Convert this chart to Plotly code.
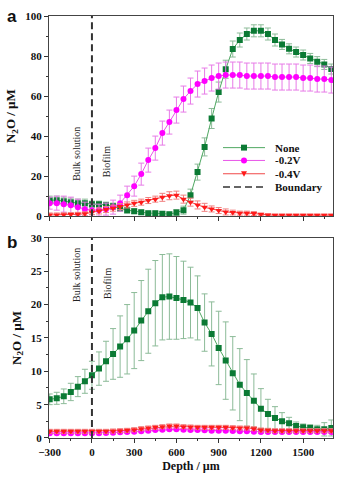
import plotly.graph_objects as go
from plotly.subplots import make_subplots

depth = list(range(-300, 1701, 50))

# Panel a
a_none = [8, 8, 7.5, 7, 6.5, 6.5, 6, 6, 5.5, 5, 4, 3, 2.5, 2, 1.5, 1.5, 1.2, 1,
          1.8, 3, 10.5, 22, 34.6, 48.8, 62, 73.4, 83.5, 88, 91, 92.6, 92.6, 91, 88, 85.8,
          83.6, 82, 80.5, 78.8, 77.2, 75.8, 73.5]
a_none_err = [2, 2, 2, 2, 2, 2, 1.5, 1.5, 1.5, 1.5, 1.5, 1.5, 1.2, 1, 1, 1, 1, 1, 1.5, 2,
              3, 4, 4.5, 5, 5, 4.5, 4, 3.5, 3, 3, 3, 3, 3, 2.5, 2.5, 2.5, 2.5, 2.5, 2.5, 2.5, 2.5]
a_02 = [6.5, 6.5, 6, 5.5, 4.5, 3.5, 3, 3, 3.5, 4.5, 6.5, 10.5, 15, 21, 28, 34, 41.5, 47, 53,
        58.5, 62.5, 66, 67.5, 69, 70, 70.5, 70.5, 70.5, 70, 70, 70, 70, 69.5, 69.5, 69.5,
        69.5, 69, 69, 68.5, 68.5, 68]
a_02_err = [3, 3.5, 4, 4, 4, 3.5, 3, 3, 3, 3.5, 4, 4.5, 5, 5.5, 6, 6, 6, 6, 6.5, 6.5, 6.5,
            6.5, 6.5, 6.5, 6.5, 6.5, 6.5, 6.5, 6.5, 6.5, 6.5, 6.5, 6.5, 6.5, 6.5, 6.5, 6.5,
            6.5, 6.5, 6.5, 6.5]
a_04 = [0.6, 0.6, 0.7, 0.8, 0.9, 1.2, 2, 2.6, 3.3, 4, 4.8, 5.6, 6.4, 7, 7.8, 8.5, 9.4, 10.2,
        10.5, 8.5, 7, 5.6, 4.4, 3.6, 2.8, 2.1, 1.8, 1.5, 1.5, 1.3, 0.9, 0.6, 0.5, 0.5, 0.5,
        0.5, 0.5, 0.5, 0.5, 0.5, 0.5]
a_04_err = [1, 1, 1, 1, 1, 1, 1.2, 1.5, 1.5, 1.5, 1.5, 1.5, 1.5, 1.5, 1.5, 1.5, 2, 2, 2, 2,
            2, 2, 2, 1.5, 1.5, 1.5, 1.2, 1, 1, 1, 0.5, 0.5, 0.5, 0.5, 0.5, 0.5, 0.5, 0.5,
            0.5, 0.5, 0.5]

# Panel b
b_none = [5.8, 5.95, 6.25, 6.9, 7.7, 8.5, 9.4, 10.4, 11.5, 12.6, 13.7, 14.8, 16.1, 17.6,
          19.0, 20.2, 21.1, 21.2, 21.0, 20.7, 20.3, 19.5, 17.3, 15.6, 13.5, 11.6, 9.7, 8.0,
          6.75, 5.6, 4.4, 3.6, 3.0, 2.5, 2.2, 1.8, 1.6, 1.5, 1.3, 1.3, 1.5]
b_none_err = [0.8, 0.9, 1.1, 1.3, 1.5, 1.8, 2.1, 2.5, 3, 3.8, 4.6, 5.2, 5.7, 6, 6.3, 6.4,
              6.4, 6.4, 6.2, 5.8, 5.3, 4.8, 4.3, 4.8, 5.5, 5.8, 5.5, 5.4, 5, 4, 3, 2.2,
              1.7, 1.3, 0.9, 0.6, 0.5, 0.5, 0.6, 1.0, 1.2]
b_02 = [0.7, 0.7, 0.7, 0.7, 0.7, 0.7, 0.7, 0.7, 0.75, 0.8, 0.85, 0.9, 0.95, 1.0, 1.1, 1.2,
        1.25, 1.3, 1.3, 1.25, 1.2, 1.2, 1.15, 1.1, 1.1, 1.1, 1.05, 1.0, 1.0, 0.95, 0.9,
        0.9, 0.9, 0.9, 0.9, 0.9, 0.9, 0.9, 0.9, 0.9, 0.9]
b_02_err = [0.2] * 41
b_04 = [1.0, 1.0, 1.0, 1.0, 1.0, 1.0, 1.0, 1.0, 1.0, 1.05, 1.1, 1.15, 1.25, 1.4, 1.5, 1.6,
        1.7, 1.8, 1.8, 1.7, 1.65, 1.6, 1.6, 1.6, 1.6, 1.6, 1.55, 1.5, 1.5, 1.4, 1.2, 1.15,
        1.1, 1.1, 1.1, 1.1, 1.1, 1.1, 1.1, 1.1, 1.1]
b_04_err = [0.3] * 41

boundary_x = [0, 0]
legend_names = ["None", "-0.2V", "-0.4V", "Boundary"]

SERIF = "Liberation Serif"
green_m, green_l, green_e = "#0b7a34", "#4fa862", "#8cbb98"
mag_m, mag_l, mag_e = "#ff00ff", "#e855e8", "#e77be7"
red_m, red_l, red_e = "#ff1a1a", "#f04848", "#f08080"
dash_c = "#333"

W, H = 350, 483
ML, MR, MT, MB = 49, 17, 10, 45
PW, PH = W - ML - MR, H - MT - MB

def px(x):
    return (x - ML) / PW

def py(y):
    return (H - MB - y) / PH

fig = make_subplots(rows=2, cols=1, vertical_spacing=0.0514)

def add_series(row, y, err, name, sym, mc, lc, ec):
    fig.add_trace(go.Scatter(
        x=depth, y=y, mode="lines+markers", name=name, showlegend=False,
        marker=dict(symbol=sym, size=6, color=mc),
        line=dict(color=lc, width=1),
        error_y=dict(type="data", array=err, color=ec, thickness=1, width=3),
    ), row=row, col=1)

add_series(1, a_none, a_none_err, "None", "square", green_m, green_l, green_e)
add_series(1, a_02, a_02_err, "-0.2V", "circle", mag_m, mag_l, mag_e)
add_series(1, a_04, a_04_err, "-0.4V", "triangle-down", red_m, red_l, red_e)
fig.add_trace(go.Scatter(x=boundary_x, y=[0, 100], mode="lines", name="Boundary", showlegend=False,
                         line=dict(color=dash_c, width=2, dash="7px,4px")), row=1, col=1)

add_series(2, b_none, b_none_err, "None", "square", green_m, green_l, green_e)
add_series(2, b_02, b_02_err, "-0.2V", "circle", mag_m, mag_l, mag_e)
add_series(2, b_04, b_04_err, "-0.4V", "triangle-down", red_m, red_l, red_e)
fig.add_trace(go.Scatter(x=boundary_x, y=[0, 30], mode="lines", showlegend=False,
                         line=dict(color=dash_c, width=2, dash="7px,4px")), row=2, col=1)

tickfont = dict(family=SERIF, size=11, color="#111", weight="bold")
xcommon = dict(range=[-305, 1712], tickvals=list(range(-300, 1701, 300)),
               ticks="outside", ticklen=4, tickcolor="#333",
               minor=dict(ticks="outside", ticklen=2, dtick=150, tick0=-300, tickcolor="#333"),
               showline=True, linecolor="#444", linewidth=1, mirror=True,
               showgrid=False, zeroline=False, tickfont=tickfont)
fig.update_xaxes(**xcommon)
fig.update_xaxes(showticklabels=False, row=1, col=1)
fig.update_xaxes(title=dict(text="Depth / µm", font=dict(family=SERIF, size=12, weight="bold", color="#111"), standoff=4), row=2, col=1)

ycommon = dict(ticks="outside", ticklen=4, tickcolor="#333",
               showline=True, linecolor="#444", linewidth=1, mirror=True,
               showgrid=False, zeroline=False, tickfont=tickfont,
               title=dict(text="N<sub>2</sub>O / µM", font=dict(family=SERIF, size=13, weight="bold", color="#111"), standoff=6))
fig.update_yaxes(**ycommon)
fig.update_yaxes(range=[0, 100], tickvals=[0, 20, 40, 60, 80, 100],
                 minor=dict(ticks="outside", ticklen=2, dtick=10, tickcolor="#333"), row=1, col=1)
fig.update_yaxes(range=[0, 30], tickvals=[0, 5, 10, 15, 20, 25, 30],
                 minor=dict(ticks="outside", ticklen=2, dtick=2.5, tickcolor="#333"), row=2, col=1)

annfont = dict(family=SERIF, size=10, color="#222")
fig.add_annotation(x=-115, y=31, xref="x", yref="y", text="Bulk solution",
                   textangle=-90, showarrow=False, font=annfont)
fig.add_annotation(x=100, y=27, xref="x", yref="y", text="Biofilm",
                   textangle=-90, showarrow=False, font=annfont)
fig.add_annotation(x=-110, y=24.5, xref="x2", yref="y2", text="Bulk solution",
                   textangle=-90, showarrow=False, font=annfont)
fig.add_annotation(x=105, y=23.2, xref="x2", yref="y2", text="Biofilm",
                   textangle=-90, showarrow=False, font=annfont)

labfont = dict(family="Liberation Sans", size=17, color="#111", weight="bold")
fig.add_annotation(x=px(12), y=py(10), xref="paper", yref="paper", text="a", showarrow=False,
                   font=labfont, xanchor="center", yanchor="middle")
fig.add_annotation(x=px(12), y=py(240), xref="paper", yref="paper", text="b", showarrow=False,
                   font=labfont, xanchor="center", yanchor="middle")

# Manual legend (compact row spacing as in the reference)
leg_rows = [143.5, 156.5, 170, 183.5]
lx0, lx1, lxm, ltext = 223, 265, 244, 273
styles = [("square", green_m, green_l), ("circle", mag_m, mag_l),
          ("triangle-down", red_m, red_l), (None, dash_c, dash_c)]
shapes = []
for name, yrow, (sym, mc, lc) in zip(legend_names, leg_rows, styles):
    if sym is None:
        shapes.append(dict(type="line", xref="paper", yref="paper", x0=px(lx0), x1=px(lx1),
                           y0=py(yrow), y1=py(yrow), line=dict(color=lc, width=1.5, dash="7px,4px")))
    else:
        shapes.append(dict(type="line", xref="paper", yref="paper", x0=px(lx0), x1=px(lx1),
                           y0=py(yrow), y1=py(yrow), line=dict(color=lc, width=1)))
        r = 3
        if sym == "square":
            shapes.append(dict(type="rect", xref="paper", yref="paper",
                               x0=px(lxm - r), x1=px(lxm + r), y0=py(yrow + r), y1=py(yrow - r),
                               fillcolor=mc, line=dict(width=0)))
        elif sym == "circle":
            shapes.append(dict(type="circle", xref="paper", yref="paper",
                               x0=px(lxm - r), x1=px(lxm + r), y0=py(yrow + r), y1=py(yrow - r),
                               fillcolor=mc, line=dict(width=0)))
        else:
            path = "M {} {} L {} {} L {} {} Z".format(px(lxm - r), py(yrow - 2.5), px(lxm + r), py(yrow - 2.5),
                                                     px(lxm), py(yrow + 3))
            shapes.append(dict(type="path", xref="paper", yref="paper", path=path,
                               fillcolor=mc, line=dict(width=0)))
    fig.add_annotation(x=px(ltext), y=py(yrow), xref="paper", yref="paper", text=name,
                       showarrow=False, xanchor="left", yanchor="middle",
                       font=dict(family=SERIF, size=11, color="#111", weight="bold"))

fig.update_layout(
    width=W, height=H,
    margin=dict(l=ML, r=MR, t=MT, b=MB),
    plot_bgcolor="white", paper_bgcolor="white",
    showlegend=False,
    shapes=shapes,
)

fig.write_html("out.html")
